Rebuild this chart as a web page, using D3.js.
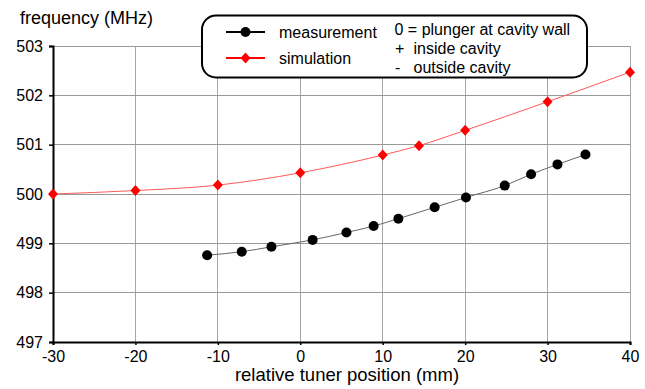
<!DOCTYPE html>
<html>
<head>
<meta charset="utf-8">
<script src="https://cdn.jsdelivr.net/npm/d3@7.9.0/dist/d3.min.js"></script>
<style>
  body { margin: 0; background: #fff; }
  svg { display: block; font-family: 'Liberation Sans', Arial, sans-serif; }
</style>
</head>
<body>
<svg id="chart" width="645" height="389"></svg>
<script>
// measured data (black dots)
const measPos = [-11.3, -7.1, -3.5, 1.5, 5.6, 8.9, 11.9, 16.3, 20.1, 24.8, 28.0, 31.2, 34.6];
const measFreq = [498.76, 498.83, 498.93, 499.07, 499.22, 499.35, 499.50, 499.73, 499.93, 500.17, 500.40, 500.60, 500.80];

// simulation (red diamonds)
const simPos = [-30, -20, -10, 0, 10, 14.4, 20, 30, 40];
const simFreq = [500.0, 500.07, 500.18, 500.43, 500.79, 500.98, 501.29, 501.87, 502.47];

const xTicks = [-30, -20, -10, 0, 10, 20, 30, 40];
const yTicks = [497, 498, 499, 500, 501, 502, 503];

const legendSeries = ['measurement', 'simulation'];
const legendNotes = [['0', '= plunger at cavity wall'], ['+', 'inside cavity'], ['-', 'outside cavity']];

const margin = { top: 46, right: 15, bottom: 47, left: 53 };
const width = 645 - margin.left - margin.right;
const height = 389 - margin.top - margin.bottom;

const svg = d3.select('#chart');
const g = svg.append('g').attr('transform', `translate(${margin.left},${margin.top})`);

const x = d3.scaleLinear().domain([-30, 40]).range([0, width]);
const y = d3.scaleLinear().domain([497, 503]).range([height, 0]);

// grid
g.append('g')
  .selectAll('line.vgrid')
  .data(xTicks)
  .join('line')
  .attr('x1', (d) => x(d)).attr('x2', (d) => x(d))
  .attr('y1', 0).attr('y2', height)
  .attr('stroke', '#a6a6a6').attr('stroke-width', 1)
  .attr('shape-rendering', 'crispEdges');

g.append('g')
  .selectAll('line.hgrid')
  .data(yTicks)
  .join('line')
  .attr('x1', 0).attr('x2', width)
  .attr('y1', (d) => y(d)).attr('y2', (d) => y(d))
  .attr('stroke', '#999').attr('stroke-width', 1)
  .attr('shape-rendering', 'crispEdges');

// axes
const yAxis = g.append('g')
  .call(d3.axisLeft(y).tickValues(yTicks).tickSize(4).tickPadding(6).tickFormat(d3.format('d')));
const xAxis = g.append('g')
  .attr('transform', `translate(0,${height})`)
  .call(d3.axisBottom(x).tickValues(xTicks).tickSize(3).tickPadding(6).tickFormat(d3.format('d')));

[xAxis, yAxis].forEach((ax) => {
  ax.select('.domain').attr('stroke', '#000').attr('stroke-width', 2);
  ax.selectAll('.tick line').attr('stroke', '#000').attr('stroke-width', 1.5);
  ax.selectAll('.tick text')
    .attr('fill', '#000')
    .style('font-size', '16px')
    .style('font-family', "'Liberation Sans', Arial, sans-serif");
});
xAxis.selectAll('.tick text').text((d) => (d < 0 ? '-' + Math.abs(d) : d));

// lines
const meas = measPos.map((p, i) => [p, measFreq[i]]);
const sim = simPos.map((p, i) => [p, simFreq[i]]);

const line = d3.line().x((d) => x(d[0])).y((d) => y(d[1])).curve(d3.curveMonotoneX);

g.append('path').datum(sim)
  .attr('d', line).attr('fill', 'none')
  .attr('stroke', '#ff5a5a').attr('stroke-width', 1);

g.append('path').datum(meas)
  .attr('d', line).attr('fill', 'none')
  .attr('stroke', '#666').attr('stroke-width', 1);

const diamond = 'M0,-5.5L5,0L0,5.5L-5,0Z';

g.append('g').selectAll('path')
  .data(sim)
  .join('path')
  .attr('d', diamond)
  .attr('transform', (d) => `translate(${x(d[0])},${y(d[1])})`)
  .attr('fill', '#ff0000');

g.append('g').selectAll('circle')
  .data(meas)
  .join('circle')
  .attr('cx', (d) => x(d[0])).attr('cy', (d) => y(d[1]))
  .attr('r', 5)
  .attr('fill', '#000');

// axis titles
svg.append('text')
  .attr('x', 20).attr('y', 24)
  .style('font-size', '18px')
  .text('frequency (MHz)');

svg.append('text')
  .attr('x', 347).attr('y', 381)
  .attr('text-anchor', 'middle')
  .style('font-size', '18.5px')
  .text('relative tuner position (mm)');

// legend
const lg = svg.append('g');
lg.append('rect')
  .attr('x', 202).attr('y', 15.5)
  .attr('width', 385).attr('height', 62)
  .attr('rx', 14).attr('ry', 14)
  .attr('fill', '#fff').attr('stroke', '#000').attr('stroke-width', 2);

const legendColors = ['#000', '#ff0000'];
const legendY = [32, 58];
legendSeries.forEach((name, i) => {
  const ly = legendY[i];
  lg.append('line')
    .attr('x1', 226).attr('x2', 265).attr('y1', ly).attr('y2', ly)
    .attr('stroke', legendColors[i]).attr('stroke-width', 2);
  if (i === 0) {
    lg.append('circle').attr('cx', 245.5).attr('cy', ly).attr('r', 5).attr('fill', '#000');
  } else {
    lg.append('path').attr('d', diamond)
      .attr('transform', `translate(245.5,${ly})`).attr('fill', '#ff0000');
  }
  lg.append('text')
    .attr('x', 279).attr('y', ly + 5.5)
    .style('font-size', '16px')
    .text(name);
});

const noteY = [35, 54, 73];
legendNotes.forEach((n, i) => {
  if (i === 0) {
    lg.append('text').attr('x', 394.5).attr('y', noteY[i])
      .style('font-size', '16px').text(n[0] + ' ' + n[1]);
  } else {
    lg.append('text').attr('x', 395).attr('y', noteY[i])
      .style('font-size', '16px').text(n[0]);
    lg.append('text').attr('x', 413.5).attr('y', noteY[i])
      .style('font-size', '16px').text(n[1]);
  }
});
</script>
</body>
</html>
